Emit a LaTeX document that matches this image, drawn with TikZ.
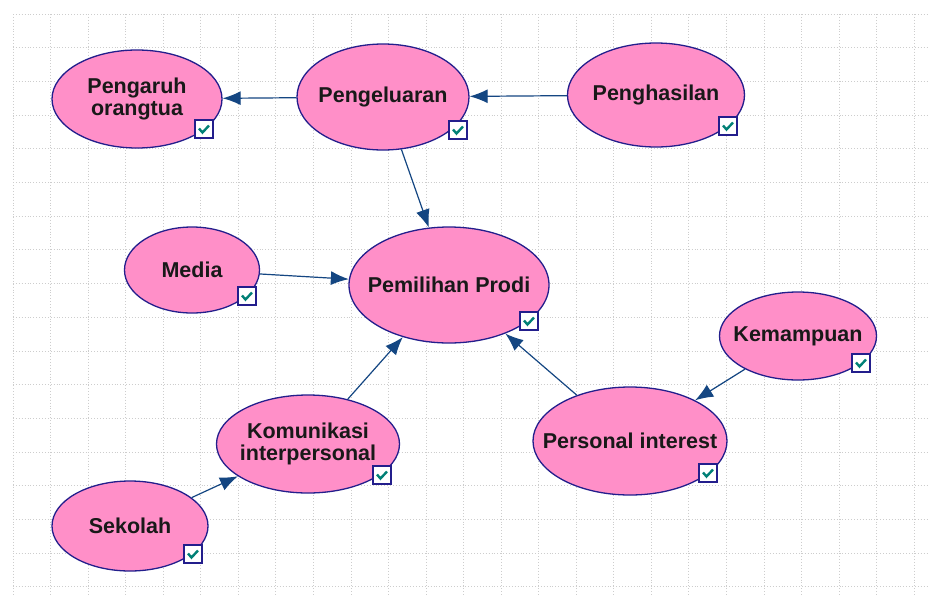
\documentclass[tikz,border=0pt]{standalone}
\usepackage{fontspec}
\setmainfont{Liberation Sans}
\usetikzlibrary{shapes.geometric,arrows.meta}
\definecolor{nodepink}{RGB}{255,143,200}
\definecolor{nodeline}{RGB}{35,30,140}
\definecolor{arrblue}{RGB}{20,70,130}
\definecolor{gridgray}{RGB}{205,205,205}
\definecolor{checkteal}{RGB}{0,128,118}
\begin{document}
\begin{tikzpicture}[x=1pt,y=-1pt,
  var/.style={ellipse, draw=nodeline, fill=nodepink, line width=1.3pt, inner sep=0pt,
    label={[align=center, inner sep=0pt, text=black!90,
      font=\fontsize{21.5}{22.5}\selectfont\bfseries]center:#1}},
  cbox/.style={draw=nodeline, fill=white, line width=1.3pt, minimum size=18pt, inner sep=0pt,
    path picture={\draw[checkteal, line width=2.4pt]
      ([xshift=-5pt,yshift=0.5pt]path picture bounding box.center) --
      ([xshift=-1.5pt,yshift=-3.5pt]path picture bounding box.center) --
      ([xshift=5pt,yshift=3.5pt]path picture bounding box.center);}},
  arr/.style={draw=arrblue, line width=1.2pt, -{Latex[length=18pt,width=14pt]}},
  gridline/.style={draw=gridgray, dotted, line width=0.9pt}]
\useasboundingbox (0,0) rectangle (929,595);
\fill[white] (0,0) rectangle (929,595);
% grid
\foreach \i in {0,...,24} \draw[gridline] ({13+37.55*\i},14) -- ({13+37.55*\i},595);
\foreach \j in {0,...,17} \draw[gridline] (13,{14+33.7*\j}) -- (929,{14+33.7*\j});

% variables
\node[var={Pengaruh\\orangtua}, minimum width=170pt, minimum height=98pt] (po) at (137,99) {};
\node[var={Pengeluaran}, minimum width=172pt, minimum height=106pt] (pl) at (383,97) {};
\node[var={Penghasilan}, minimum width=177pt, minimum height=104pt] (ph) at (656,95) {};
\node[var={Media}, minimum width=135pt, minimum height=86pt] (md) at (192,270) {};
\node[var={Pemilihan Prodi}, minimum width=200pt, minimum height=116pt] (pp) at (449,285) {};
\node[var={Kemampuan}, minimum width=157pt, minimum height=88pt] (km) at (798,336) {};
\node[var={Personal interest}, minimum width=194pt, minimum height=108pt] (pi) at (630,441) {};
\node[var={Komunikasi\\interpersonal}, minimum width=183pt, minimum height=98pt] (ki) at (308,444) {};
\node[var={Sekolah}, minimum width=156pt, minimum height=90pt] (sk) at (130,526) {};

% check boxes
\node[cbox] (cpo) at (204,129) {};
\node[cbox] (cpl) at (458,130) {};
\node[cbox] (cph) at (728,126) {};
\node[cbox] (cmd) at (247,296) {};
\node[cbox] (cpp) at (529,321) {};
\node[cbox] (ckm) at (861,363) {};
\node[cbox] (cpi) at (708,473) {};
\node[cbox] (cki) at (382,475) {};
\node[cbox] (csk) at (193,554) {};

% connectors
\draw[arr] (pl) -- (po);
\draw[arr] (ph) -- (pl);
\draw[arr] (pl) -- (pp);
\draw[arr] (md) -- (pp);
\draw[arr] (ki) -- (pp);
\draw[arr] (pi) -- (pp);
\draw[arr] (km) -- (pi);
\draw[arr] (sk) -- (ki);
\end{tikzpicture}
\end{document}
